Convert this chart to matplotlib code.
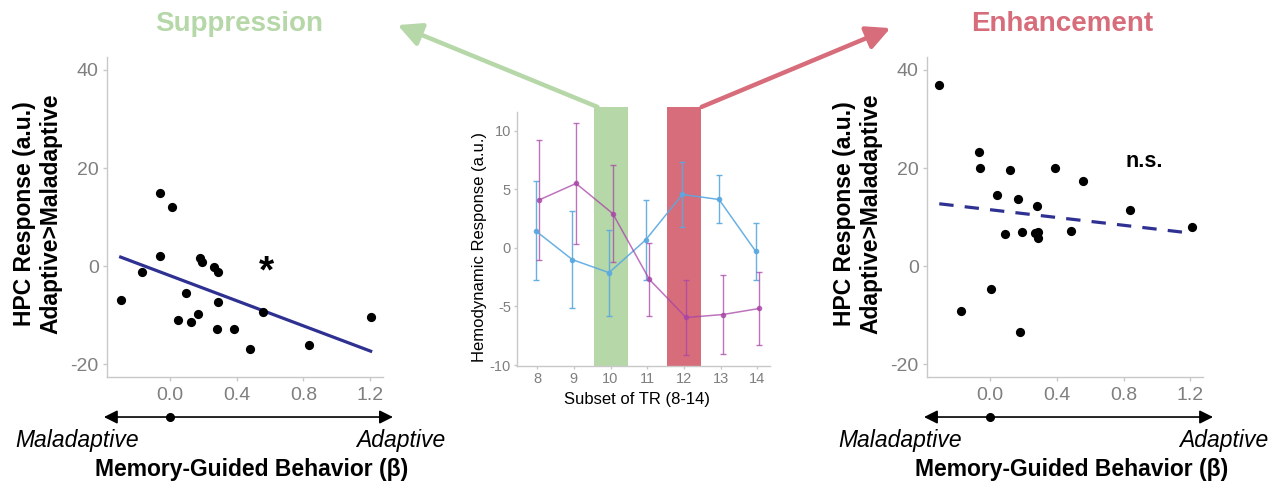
import matplotlib
matplotlib.use("Agg")
import matplotlib.pyplot as plt
from matplotlib.patches import FancyArrowPatch
import numpy as np

plt.rcParams['font.family'] = ['Liberation Sans', 'DejaVu Sans']
plt.rcParams['axes.unicode_minus'] = False

# ---------------- data ----------------
# Suppression panel (left)
sup_x = [-0.293, -0.166, -0.057, 0.016, -0.055, 0.095, 0.050, 0.125, 0.168, 0.182,
         0.196, 0.265, 0.291, 0.287, 0.283, 0.386, 0.483, 0.556, 0.834, 1.202]
sup_y = [-6.96, -1.3, 15.0, 12.0, 2.1, -5.6, -11.06, -11.4, -9.8, 1.7,
         0.75, -0.14, -1.3, -7.4, -12.8, -12.8, -16.9, -9.35, -16.2, -10.5]
sup_fit = (-12.84, -1.94)   # slope, intercept

# Enhancement panel (right)
enh_x = [-0.302, -0.172, -0.062, -0.060, 0.010, 0.046, 0.092, 0.122, 0.166, 0.194,
         0.182, 0.282, 0.272, 0.290, 0.288, 0.388, 0.486, 0.558, 0.838, 1.210]
enh_y = [37.0, -9.15, 23.3, 19.9, -4.6, 14.5, 6.55, 19.5, 13.7, 7.0,
         -13.5, 12.3, 6.7, 6.9, 5.7, 20.1, 7.2, 17.3, 11.4, 7.9]
enh_fit = (-3.98, 11.5)

# Middle panel: hemodynamic response by TR
tr = [8, 9, 10, 11, 12, 13, 14]
blue_mean = [1.46, -1.0, -2.11, 0.69, 4.57, 4.14, -0.29]
blue_hi = [5.7, 3.14, 1.54, 4.06, 7.31, 6.26, 2.14]
blue_lo = [-2.77, -5.14, -5.8, -2.7, 1.77, 2.09, -2.74]
purple_mean = [4.11, 5.51, 2.94, -2.69, -5.94, -5.69, -5.17]
purple_hi = [9.2, 10.71, 7.06, 0.46, -2.77, -2.31, -2.06]
purple_lo = [-1.0, 0.34, -1.23, -5.8, -9.14, -9.03, -8.26]
sup_window = (9.55, 10.48)
enh_window = (11.55, 12.47)

scatter_xticks = [0.0, 0.4, 0.8, 1.2]
scatter_xticklabels = ['0.0', '0.4', '0.8', '1.2']
scatter_yticks = [-20, 0, 20, 40]
mid_yticks = [-10, -5, 0, 5, 10]

# ---------------- style ----------------
GREEN = '#b6d7a8'
RED = '#d76c7b'
NAVY = '#2e3192'
BLUE = '#5aa9e0'
PURPLE = '#a845a6'
TICKC = '#7f7f7f'
SPINEC = '#c8c8c8'

fig = plt.figure(figsize=(12.81, 4.94), dpi=100)

def style_axes(ax, labelsize, pad, length=3):
    for s in ['top', 'right']:
        ax.spines[s].set_visible(False)
    for s in ['left', 'bottom']:
        ax.spines[s].set_color(SPINEC)
        ax.spines[s].set_linewidth(1.0)
    ax.tick_params(colors=SPINEC, labelcolor=TICKC, labelsize=labelsize,
                   length=length, width=1.0, pad=pad)


def scatter_panel(rect, xs, ys, fit, dashed, annot, annot_xy, annot_size, annot_va):
    ax = fig.add_axes(rect)
    ax.scatter(xs, ys, s=44, color='black', zorder=3, linewidths=0)
    slope, icpt = fit
    lx = np.array([min(xs), max(xs)])
    ax.plot(lx, slope * lx + icpt, color=NAVY, lw=2.3,
            ls=(0, (4.5, 3.5)) if dashed else '-', zorder=2)
    ax.set_xlim(-0.375, 1.276)
    ax.set_ylim(-22.65, 42.65)
    ax.set_xticks(scatter_xticks)
    ax.set_xticklabels(scatter_xticklabels)
    ax.set_yticks(scatter_yticks)
    style_axes(ax, 14, 3)
    ax.tick_params(axis='x', pad=4)
    ax.set_ylabel("HPC Response (a.u.)\nAdaptive>Maladaptive", fontsize=16.5,
                  fontweight='bold', color='black', linespacing=1.15)
    ax.yaxis.set_label_coords(-0.163, 0.51)
    ax.text(annot_xy[0], annot_xy[1], annot, fontsize=annot_size, fontweight='bold',
            ha='center', va=annot_va, color='black')
    # direction arrow beneath the x axis
    tr_ = ax.get_xaxis_transform()
    arr = FancyArrowPatch((-0.41, -0.125), (1.352, -0.125), transform=tr_,
                          arrowstyle='<|-|>,head_length=0.9,head_width=0.45',
                          mutation_scale=9, lw=1.2, color='black', clip_on=False)
    ax.add_patch(arr)
    ax.plot([0.0], [-0.125], marker='o', ms=5.5, color='black', transform=tr_,
            clip_on=False)
    return ax

axL = scatter_panel([0.0835, 0.2368, 0.2155, 0.6478], sup_x, sup_y, sup_fit, False,
                    '*', (0.578, -3.4), 28, 'baseline')
axR = scatter_panel([0.7237, 0.2368, 0.2155, 0.6478], enh_x, enh_y, enh_fit, True,
                    'n.s.', (0.925, 21.3), 15.5, 'center')

# ---------------- middle panel ----------------
axM = fig.add_axes([0.4036, 0.2597, 0.1975, 0.5142])
axM.axvspan(*sup_window, ymin=0, ymax=1.02, color=GREEN, lw=0, clip_on=False, zorder=1)
axM.axvspan(*enh_window, ymin=0, ymax=1.02, color=RED, lw=0, clip_on=False, zorder=1)

trx = np.array(tr, dtype=float)
bm = np.array(blue_mean)
pm = np.array(purple_mean)
axM.errorbar(trx - 0.04, bm, yerr=[bm - np.array(blue_lo), np.array(blue_hi) - bm],
             color=BLUE, ecolor=BLUE, elinewidth=1.0, capsize=2, capthick=1.0,
             lw=1.1, marker='o', ms=3, zorder=3, alpha=0.9)
axM.errorbar(trx + 0.06, pm, yerr=[pm - np.array(purple_lo), np.array(purple_hi) - pm],
             color=PURPLE, ecolor=PURPLE, elinewidth=1.0, capsize=2, capthick=1.0,
             lw=1.1, marker='o', ms=3, zorder=3, alpha=0.75)
axM.set_xlim(7.45, 14.35)
axM.set_ylim(-10.06, 11.64)
axM.set_xticks(tr)
axM.set_yticks(mid_yticks)
style_axes(axM, 10.5, 1.8, length=2.5)
axM.set_ylabel("Hemodynamic Response (a.u.)", fontsize=12, color='black')
axM.yaxis.set_label_coords(-0.119, 0.467)
axM.set_xlabel("Subset of TR (8-14)", fontsize=12, color='black')
axM.xaxis.set_label_coords(0.474, -0.102)

# ---------------- figure-level text & arrows ----------------
fig.text(0.1866, 0.952, "Suppression", fontsize=20, fontweight='bold', color=GREEN,
         ha='center', va='center')
fig.text(0.829, 0.952, "Enhancement", fontsize=20, fontweight='bold', color=RED,
         ha='center', va='center')

fig.patches.append(FancyArrowPatch((0.4684, 0.7814), (0.3084, 0.9514),
                                   transform=fig.transFigure,
                                   arrowstyle='-|>,head_length=1.1,head_width=0.55',
                                   mutation_scale=13, lw=3.2, color=GREEN))
fig.patches.append(FancyArrowPatch((0.5457, 0.7814), (0.6971, 0.9453),
                                   transform=fig.transFigure,
                                   arrowstyle='-|>,head_length=1.1,head_width=0.55',
                                   mutation_scale=13, lw=3.2, color=RED))

for xl, xr in [(15, 445), (838, 1268)]:
    fig.text(xl / 1281, 1 - 440 / 494, "Maladaptive", fontsize=16.5, style='italic',
             ha='left', va='center', color='black')
    fig.text(xr / 1281, 1 - 440 / 494, "Adaptive", fontsize=16.5, style='italic',
             ha='right', va='center', color='black')
for xc in [252, 1072]:
    fig.text(xc / 1281, 1 - 469 / 494, "Memory-Guided Behavior (β)", fontsize=16.5,
             fontweight='bold', ha='center', va='center', color='black')

fig.savefig('out.png', dpi=100)
